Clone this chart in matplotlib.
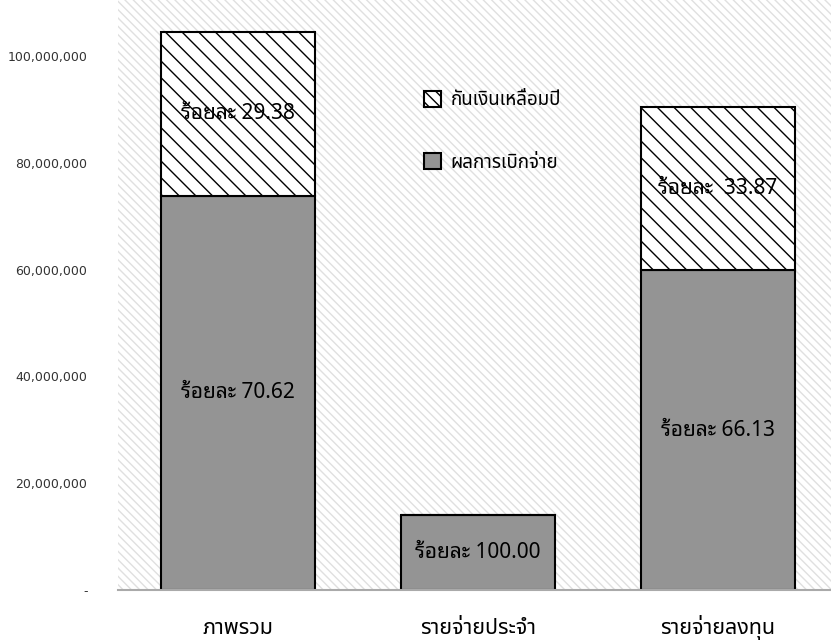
import matplotlib
matplotlib.use("Agg")
import matplotlib.pyplot as plt
from matplotlib.patches import Patch, Rectangle
from matplotlib.ticker import FuncFormatter
from matplotlib.transforms import blended_transform_factory

# ---- data ----
categories = ["ภาพรวม", "รายจ่ายประจำ", "รายจ่ายลงทุน"]
disbursed = [73.85e6, 14.0e6, 59.85e6]        # ผลการเบิกจ่าย
carryover = [30.65e6, 0.0, 30.65e6]           # กันเงินเหลื่อมปี
disbursed_pct = ["ร้อยละ 70.62", "ร้อยละ 100.00", "ร้อยละ 66.13"]
carryover_pct = ["ร้อยละ 29.38", None, "ร้อยละ  33.87"]
series_names = ["กันเงินเหลื่อมปี", "ผลการเบิกจ่าย"]
yticks = [0, 20e6, 40e6, 60e6, 80e6, 100e6]

label_fams = ["Noto Sans Thai Looped", "DejaVu Sans"]
thai_fams = ["Noto Sans Thai", "DejaVu Sans"]

fig = plt.figure(figsize=(8.31, 6.42), dpi=100)
ax = fig.add_axes([118/831, 52/642, 1 - 118/831, 590/642])

# background texture
ax.add_patch(Rectangle((0, 0), 1, 1, transform=ax.transAxes, facecolor="white",
                       edgecolor="#e0e0e0", hatch="\\\\\\\\", lw=0, zorder=0))

x = list(range(len(categories)))
w = 0.645
plt.rcParams["hatch.linewidth"] = 1.0
ax.bar(x, disbursed, width=w, color="#949494", edgecolor="black", lw=1.5, zorder=2)
ax.bar(x, carryover, width=w, bottom=disbursed, color="white", edgecolor="black",
       hatch="\\\\", lw=1.5, zorder=2)

for i in x:
    ax.text(i, disbursed[i] / 2, disbursed_pct[i], ha="center", va="center",
            fontsize=15, family=label_fams, zorder=3)
    if carryover[i] > 0 and carryover_pct[i]:
        ax.text(i, disbursed[i] + carryover[i] / 2, carryover_pct[i], ha="center",
                va="center", fontsize=15, family=label_fams, zorder=3)

ax.set_xlim(-0.5, 2.5 - 7/240)
ax.set_ylim(0, 110.5e6)
ax.set_yticks(yticks)
ax.yaxis.set_major_formatter(FuncFormatter(lambda v, p: "-" if v == 0 else f"{v:,.0f}"))
ax.tick_params(axis="y", length=0, pad=22, labelsize=9, labelcolor="#333333")
ax.set_xticks(x)
ax.set_xticklabels([])
ax.tick_params(axis="x", length=0)
trans = blended_transform_factory(ax.transData, fig.transFigure)
for i in x:
    ax.text(i, 8 / 642, categories[i], transform=trans, ha="center", va="baseline",
            family=thai_fams, fontsize=15.5, clip_on=False)
for s in ["left", "right", "top"]:
    ax.spines[s].set_visible(False)
ax.spines["bottom"].set_color("#aaaaaa")
ax.spines["bottom"].set_linewidth(1.5)

handles = [Patch(facecolor="white", edgecolor="black", hatch="\\\\\\", lw=1.5),
           Patch(facecolor="#949494", edgecolor="black", lw=1.5)]
ax.legend(handles, series_names, loc="upper left", bbox_to_anchor=(0.405, 0.875),
          frameon=False, prop={"family": thai_fams, "size": 13.5}, labelspacing=2.35,
          handlelength=0.95, handleheight=0.95, handletextpad=0.5)

fig.savefig("out.png", dpi=100)
